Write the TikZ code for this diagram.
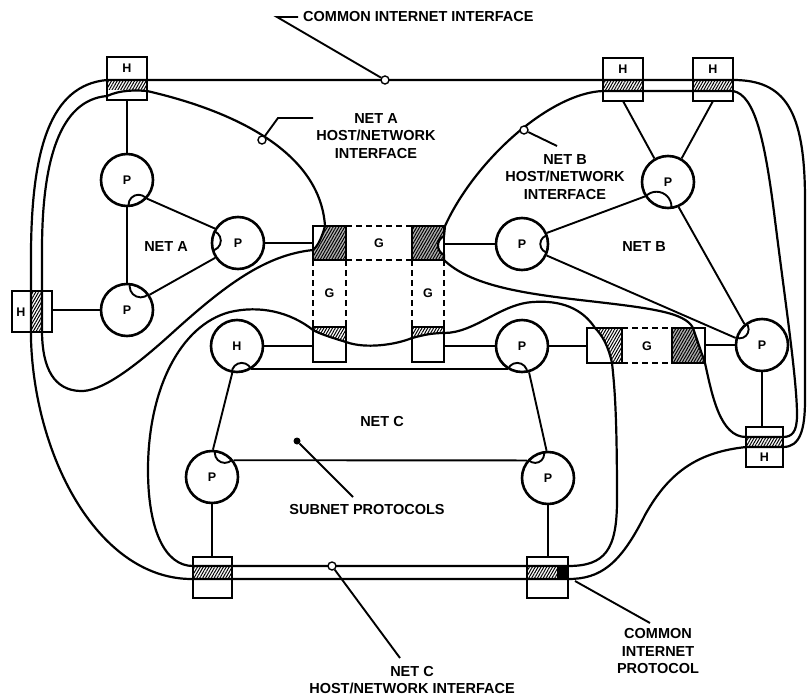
\documentclass[tikz,border=0pt]{standalone}
\usepackage{fontspec}
\setmainfont{Liberation Sans}
\usetikzlibrary{patterns.meta}
\newcommand\mylens[3]{\begin{scope}\clip (#1.center) circle (26);\draw[line width=1.9pt] (#1.#2) circle (#3);\end{scope}}
\begin{document}
\begin{tikzpicture}[x=1pt,y=-1pt,
  ln/.style={line width=2.2pt},
  sl/.style={line width=1.9pt},
  bx/.style={line width=2.5pt},
  pc/.style={circle,draw,line width=2.6pt,fill=white,minimum size=52pt,inner sep=0pt,font=\fontsize{12.5}{12.5}\selectfont\bfseries},
  hatch/.style={pattern={Lines[angle=60,distance=2.5pt,line width=1pt]}},
  gl/.style={font=\fontsize{12.5}{12.5}\selectfont\bfseries,inner sep=0pt},
  lbl/.style={font=\fontsize{14.5}{17.5}\selectfont\bfseries,align=center,inner sep=0pt},
  mk/.style={circle,draw,line width=1.4pt,fill=white,inner sep=0pt,minimum size=8pt},
  dsh/.style={line width=2.2pt,dash pattern=on 6pt off 4pt},
]
\useasboundingbox (0,0) rectangle (808,699);
\fill[white] (0,0) rectangle (808,699);

% ---------- H boxes ----------
\fill[white] (107,57) rectangle (147,100);
\fill[hatch] (107,80) rectangle (147,89);
\draw[bx] (107,57) rectangle (147,100);
\node[gl] (hA) at (127,68) {H};

\fill[white] (603,58) rectangle (643,101);
\fill[hatch] (603,80) rectangle (643,91);
\draw[bx] (603,58) rectangle (643,101);
\node[gl] (hB1) at (623,69) {H};

\fill[white] (693,58) rectangle (733,101);
\fill[hatch] (693,80) rectangle (733,91);
\draw[bx] (693,58) rectangle (733,101);
\node[gl] (hB2) at (713,69) {H};

\fill[white] (12,291) rectangle (52,332);
\fill[hatch] (31,291) rectangle (42,332);
\draw[bx] (12,291) rectangle (52,332);
\node[gl] (hL) at (21,312) {H};

\fill[white] (746,427) rectangle (783,467);
\fill[hatch] (746,437) rectangle (783,447);
\draw[bx] (746,427) rectangle (783,467);
\node[gl] (hR) at (764.5,457) {H};

\fill[white] (193,557) rectangle (232,598);
\fill[hatch] (193,566) rectangle (232,579);
\draw[bx] (193,557) rectangle (232,598);

\fill[white] (527,557) rectangle (568,598);
\fill[hatch] (527,566) rectangle (557,579);
\fill[black] (557,566) rectangle (568,579);
\draw[bx] (527,557) rectangle (568,598);

% ---------- gateways ----------
% top gateway A-B
\fill[black!30] (313,226) rectangle (346,260);
\fill[hatch] (313,226) rectangle (346,260);
\fill[white] (313,226) -- (325,226) .. controls (322,237) and (318,246) .. (313,250) -- cycle;
\draw[bx] (313,226) rectangle (346,260);
\draw[dsh] (346,226) -- (412,226) (346,260) -- (412,260);
\fill[black!30] (412,226) rectangle (444,260);
\fill[hatch] (412,226) rectangle (444,260);
\fill[white] (444,236) .. controls (436,240) and (436,251) .. (444,255) -- cycle;
\draw[bx] (412,226) rectangle (444,260);
\node[gl] (gAB) at (379,243) {G};
% A-C and B-C vertical
\draw[dsh] (313,260) -- (313,327) (346,260) -- (346,327) (412,260) -- (412,327) (444,260) -- (444,327);
\fill[hatch] (313,327) -- (346,327) -- (346,342) .. controls (333,338) and (320,334) .. (313,330) -- cycle;
\draw[bx] (313,327) rectangle (346,362);
\fill[hatch] (412,327) -- (444,327) -- (444,333) .. controls (430,333) and (420,336) .. (412,338) -- cycle;
\draw[bx] (412,327) rectangle (444,362);
\node[gl] (gAC) at (329.5,293) {G};
\node[gl] (gBC) at (428,293) {G};
% right gateway B-C
\fill[hatch] (595,328) -- (622,328) -- (622,363) -- (612,363) .. controls (608,345) and (602,335) .. (595,328) -- cycle;
\draw[bx] (587,328) rectangle (622,363);
\draw[dsh] (622,328) -- (672,328) (622,363) -- (672,363);
\fill[black!30] (672,328) -- (693,328) -- (705,363) -- (672,363) -- cycle;
\fill[hatch] (672,328) -- (693,328) -- (705,363) -- (672,363) -- cycle;
\draw[bx] (672,328) rectangle (705,363);
\node[gl] (gR) at (647,346) {G};

% ---------- common internet interface ----------
\draw[ln] (107,80) -- (733,80) .. controls (785,80) and (805,110) .. (805,200) -- (805,400)
  .. controls (805,430) and (800,447) .. (783,447) -- (746,447)
  .. controls (700,452) and (670,470) .. (645,515) .. controls (620,565) and (600,579) .. (568,579)
  -- (193,579) .. controls (100,580) and (35,460) .. (31,340) -- (31,250)
  .. controls (32,150) and (50,85) .. (107,80);

% ---------- net A host/network interface ----------
\draw[ln] (147,91) .. controls (230,110) and (320,150) .. (325,226)
  .. controls (322,237) and (318,246) .. (313,250)
  .. controls (265,255) and (225,285) .. (170,335)
  .. controls (130,371) and (100,392) .. (80,391)
  .. controls (55,390) and (42,370) .. (42,330) -- (42,250)
  .. controls (42,160) and (60,100) .. (107,96)
  .. controls (120,90) and (135,90) .. (147,91);

% ---------- net B host/network interface ----------
\draw[ln] (445,226) .. controls (475,160) and (550,93) .. (603,91) -- (733,91)
  .. controls (755,95) and (765,140) .. (775,220)
  .. controls (785,300) and (797,380) .. (797,415)
  .. controls (797,432) and (792,437) .. (783,437) -- (746,437)
  .. controls (720,437) and (712,395) .. (705,363) -- (693,328)
  .. controls (685,312) and (650,308) .. (580,300)
  .. controls (520,293) and (470,285) .. (444,260) -- (444,255)
  .. controls (436,251) and (436,240) .. (444,236) -- (445,226);

% ---------- net C host/network interface ----------
\draw[ln] (193,566) -- (568,566) .. controls (605,566) and (617,550) .. (617,500)
  .. controls (617,420) and (615,390) .. (612,363)
  .. controls (608,345) and (602,335) .. (595,328)
  .. controls (582,308) and (560,300) .. (533,302)
  .. controls (500,304) and (475,333) .. (444,333)
  .. controls (430,333) and (420,336) .. (412,338)
  .. controls (395,345) and (365,349) .. (346,342)
  .. controls (333,338) and (320,334) .. (313,330)
  .. controls (290,312) and (260,305) .. (230,312)
  .. controls (180,325) and (148,390) .. (148,470)
  .. controls (148,530) and (165,566) .. (193,566);

% ---------- packet switches ----------
\node[pc] (PA1) at (127,180) {P};
\node[pc] (PA2) at (238,243) {P};
\node[pc] (PA3) at (127,310) {P};
\node[pc] (PB1) at (668,182) {P};
\node[pc] (PB2) at (522,244) {P};
\node[pc] (PB3) at (762,345) {P};
\node[pc] (HC)  at (237,346) {H};
\node[pc] (PC1) at (522,346) {P};
\node[pc] (PC2) at (212,477) {P};
\node[pc] (PC3) at (548,478) {P};

% ---------- subnet lines ----------
\draw[sl] (127,100) -- (PA1.north);
\draw[sl] (PA1.-43) -- (PA2.148);
\draw[sl] (PA1.south) -- (PA3.north);
\draw[sl] (PA3.34) -- (PA2.213);
\draw[sl] (52,310) -- (PA3.west);
\draw[sl] (PA2.east) -- (313,243);

\draw[sl] (623,101) -- (PB1.120);
\draw[sl] (713,101) -- (PB1.60);
\draw[sl] (444,244) -- (PB2.west);
\draw[sl] (PB2.24) -- (PB1.212);
\draw[sl] (PB2.-25) -- (PB3.165);
\draw[sl] (PB1.-67) -- (PB3.130);
\draw[sl] (PB3.west) -- (705,345);
\draw[sl] (PB3.south) -- (762,427);

\draw[sl] (HC.east) -- (313,346);
\draw[sl] (444,346) -- (PC1.west);
\draw[sl] (PC1.east) -- (587,346);
\draw[sl] (HC.-58) -- (PC1.-122);
\draw[sl] (HC.-100) -- (PC2.88);
\draw[sl] (PC2.38) -- (PC3.140);
\draw[sl] (PC1.-75) -- (PC3.93);
\draw[sl] (PC2.south) -- (212,557);
\draw[sl] (PC3.south) -- (548,557);

% lenses where paths join a switch
\mylens{PA1}{-65}{10}
\mylens{PA2}{175}{10}
\mylens{PA3}{60}{11}
\mylens{PB1}{-115}{15}
\mylens{PB2}{0}{9}
\mylens{PB3}{145}{9}
\mylens{HC}{-80}{10}
\mylens{PC1}{-100}{10}
\mylens{PC2}{62}{10}
\mylens{PC3}{118}{9}

% ---------- markers and labels ----------
\node[mk] (m1) at (385,80) {};
\node[mk] (m2) at (262,140) {};
\node[mk] (m3) at (524,130) {};
\node[mk] (m4) at (332,566) {};
\node[circle,fill,inner sep=0pt,minimum size=7pt] (dot) at (297,441) {};

\node[lbl,anchor=west] (tCI) at (303,17) {COMMON INTERNET INTERFACE};
\coordinate (c1) at (277,17);
\draw[sl] (tCI.west) ++(-5,0) -- (c1) -- (m1);

\node[lbl] (tNA) at (376,136) {NET A\\HOST/NETWORK\\INTERFACE};
\coordinate (c2) at (278,118);
\draw[sl] (m2) -- (c2) -- (313,118);

\node[lbl] (tNB) at (565,177) {NET B\\HOST/NETWORK\\INTERFACE};
\draw[sl] (m3) -- (557,146);

\node[lbl] (nA) at (166,247) {NET A};
\node[lbl] (nB) at (644,247) {NET B};
\node[lbl] (nC) at (382,422) {NET C};

\node[lbl] (tSP) at (367,509) {SUBNET PROTOCOLS};
\draw[sl] (dot) -- (353,497);

\node[lbl] (tCIP) at (658,651) {COMMON\\INTERNET\\PROTOCOL};
\draw[sl] (575,581) -- (650,623);

\node[lbl] (tNC) at (412,680) {NET C\\HOST/NETWORK INTERFACE};
\draw[sl] (m4) -- (400,658);
\end{tikzpicture}
\end{document}
